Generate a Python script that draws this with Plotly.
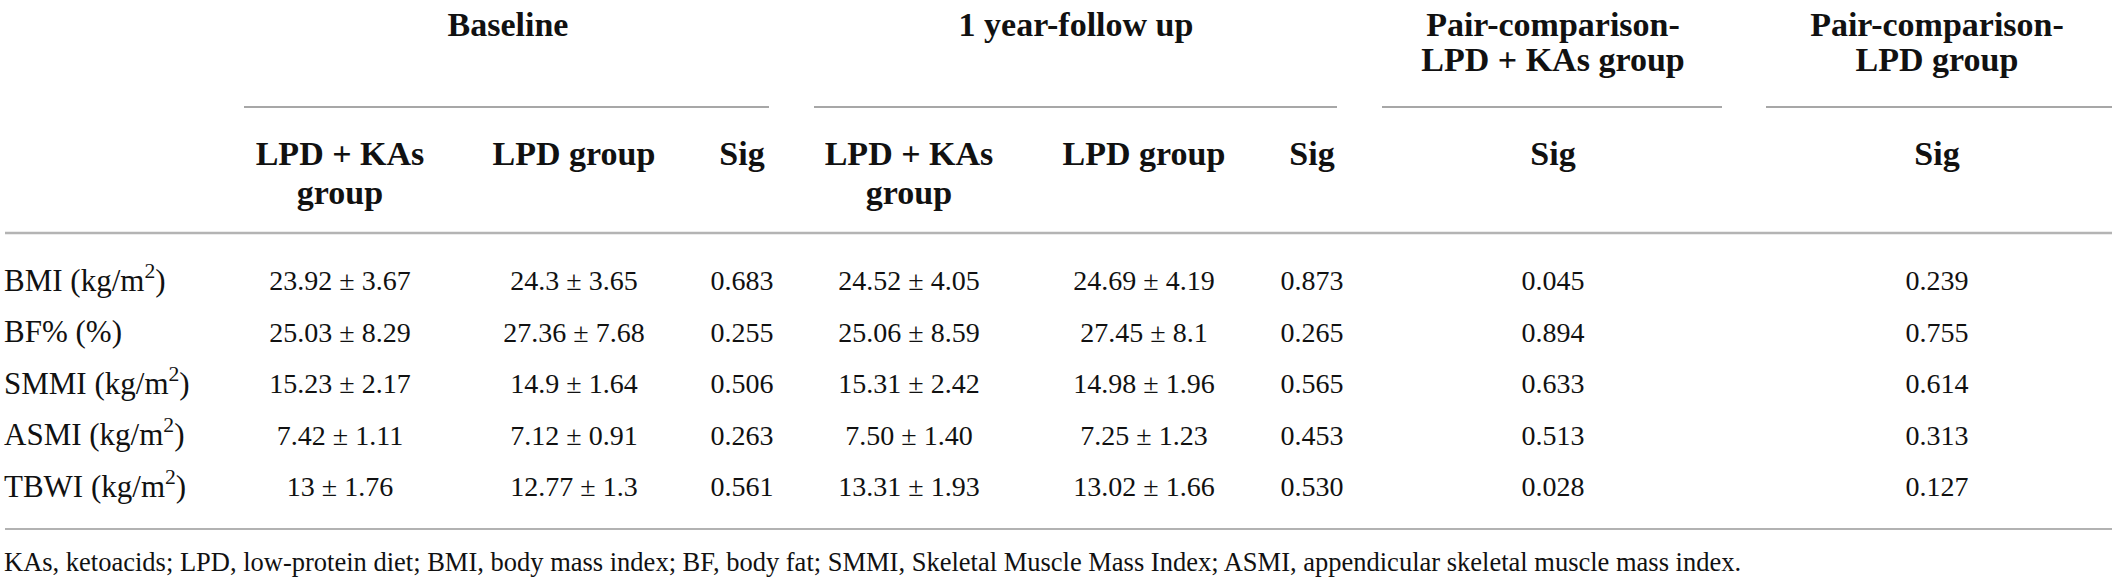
import plotly.graph_objects as go

# table content
row_labels = ["BMI (kg/m<sup>2</sup>)", "BF% (%)", "SMMI (kg/m<sup>2</sup>)",
              "ASMI (kg/m<sup>2</sup>)", "TBWI (kg/m<sup>2</sup>)"]
base_kas = ["23.92 ± 3.67", "25.03 ± 8.29", "15.23 ± 2.17", "7.42 ± 1.11", "13 ± 1.76"]
base_lpd = ["24.3 ± 3.65", "27.36 ± 7.68", "14.9 ± 1.64", "7.12 ± 0.91", "12.77 ± 1.3"]
base_sig = ["0.683", "0.255", "0.506", "0.263", "0.561"]
year_kas = ["24.52 ± 4.05", "25.06 ± 8.59", "15.31 ± 2.42", "7.50 ± 1.40", "13.31 ± 1.93"]
year_lpd = ["24.69 ± 4.19", "27.45 ± 8.1", "14.98 ± 1.96", "7.25 ± 1.23", "13.02 ± 1.66"]
year_sig = ["0.873", "0.265", "0.565", "0.453", "0.530"]
pair_kas_sig = ["0.045", "0.894", "0.633", "0.513", "0.028"]
pair_lpd_sig = ["0.239", "0.755", "0.614", "0.313", "0.127"]

group_headers = [["Baseline"], ["1 year-follow up"],
                 ["Pair-comparison-", "LPD + KAs group"],
                 ["Pair-comparison-", "LPD group"]]
sub_headers = [["LPD + KAs", "group"], ["LPD group"], ["Sig"],
               ["LPD + KAs", "group"], ["LPD group"], ["Sig"],
               ["Sig"], ["Sig"]]
footnote = ("KAs, ketoacids; LPD, low-protein diet; BMI, body mass index; BF, body fat; "
            "SMMI, Skeletal Muscle Mass Index; ASMI, appendicular skeletal muscle mass index.")

columns = [base_kas, base_lpd, base_sig, year_kas, year_lpd, year_sig, pair_kas_sig, pair_lpd_sig]

# layout (pixels)
W, H = 2117, 583
FONT = "Liberation Serif"
col_x = [340, 574, 742, 909, 1144, 1312, 1553, 1937]
row_y = [283 + 51.5 * i for i in range(len(row_labels))]
group_x = [508, 1076, 1553, 1937]
group_rules = [(244, 769), (814, 1337), (1382, 1722), (1766, 2112)]

fig = go.Figure()

# body cells
for cx, vals in zip(col_x, columns):
    fig.add_trace(go.Scatter(x=[cx] * len(vals), y=row_y, text=vals, mode="text",
                             textposition="middle center",
                             textfont=dict(family=FONT, size=28, color="#111")))
fig.add_trace(go.Scatter(x=[4] * len(row_labels), y=row_y, text=row_labels, mode="text",
                         textposition="middle right",
                         textfont=dict(family=FONT, size=31, color="#111")))

# headers
hx, hy, ht = [], [], []
for gx, lines in zip(group_x, group_headers):
    for k, ln in enumerate(lines):
        hx.append(gx); hy.append(27 + k * 35); ht.append(ln)
for cx, lines in zip(col_x, sub_headers):
    for k, ln in enumerate(lines):
        hx.append(cx); hy.append(156 + k * 39); ht.append(ln)
fig.add_trace(go.Scatter(x=hx, y=hy, text=ht, mode="text", textposition="middle center",
                         textfont=dict(family=FONT, size=34, color="#111", weight="bold")))

fig.add_trace(go.Scatter(x=[4], y=[564], text=[footnote], mode="text",
                         textposition="middle right",
                         textfont=dict(family=FONT, size=26.5, color="#111")))

# rules
for x0, x1 in group_rules:
    fig.add_shape(type="line", x0=x0, x1=x1, y0=107, y1=107,
                  line=dict(color="#8a8a8a", width=1.5))
fig.add_shape(type="line", x0=5, x1=2112, y0=233, y1=233, line=dict(color="#b4b4b4", width=2.5))
fig.add_shape(type="line", x0=5, x1=2112, y0=529, y1=529, line=dict(color="#999999", width=1.5))

fig.update_layout(width=W, height=H, margin=dict(l=0, r=0, t=0, b=0),
                  paper_bgcolor="white", plot_bgcolor="white", showlegend=False,
                  xaxis=dict(range=[0, W], visible=False, fixedrange=True),
                  yaxis=dict(range=[H, 0], visible=False, fixedrange=True))

fig.write_html("out.html", config={"displayModeBar": False},
               post_script="document.body.style.margin='0';document.body.style.overflow='hidden';")
